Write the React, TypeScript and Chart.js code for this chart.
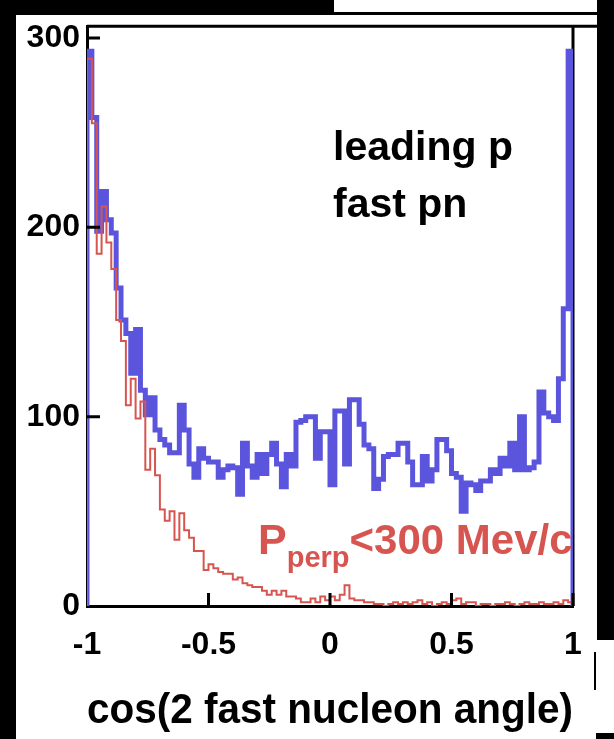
import React, { useEffect, useRef } from "react";
import { Chart, registerables } from "chart.js";

Chart.register(...registerables);

// ---- data ----
const histMin = -1;
const histMax = 1;

const fastPnCounts = [
  293, 258, 198, 219, 204, 197, 168, 151, 144, 123,
  146, 114, 101, 110, 93, 88, 85, 81, 81, 106,
  93, 75, 68, 83, 78, 76, 76, 68, 72, 74,
  73, 59, 86, 74, 68, 80, 70, 80, 86, 75,
  63, 80, 74, 97, 98, 100, 100, 78, 92, 92,
  64, 103, 103, 75, 109, 109, 96, 85, 83, 62,
  67, 79, 80, 80, 86, 86, 76, 64, 64, 79,
  66, 72, 88, 88, 82, 70, 68, 50, 65, 64,
  61, 66, 66, 72, 70, 78, 74, 86, 72, 100,
  72, 73, 76, 113, 102, 100, 98, 120, 157, 293,
];

const pperpCutCounts = [
  289, 255, 186, 211, 192, 178, 151, 140, 106, 120,
  99, 108, 72, 83, 69, 51, 45, 50, 35, 49,
  40, 36, 29, 29, 19, 22, 20, 18, 17, 17,
  14, 15, 12, 11, 10, 10, 8, 6, 8, 6,
  8, 5, 5, 4, 2, 2, 4, 2, 5, 3,
  5, 3, 6, 11, 4, 3, 3, 2, 2, 1,
  1, 0, 1, 2, 1, 2, 1, 2, 3, 1,
  2, 0, 1, 2, 1, 3, 4, 1, 2, 2,
  0, 1, 1, 0, 1, 1, 2, 1, 0, 1,
  2, 1, 1, 2, 1, 1, 2, 1, 3, 2,
];

const yAxisMax = 306.25;
const yTickValues = [0, 100, 200, 300];
const yTickLabels = ["0", "100", "200", "300"];
const xTickValues = [-1, -0.5, 0, 0.5, 1];
const xTickLabels = ["-1", "-0.5", "0", "0.5", "1"];
const xAxisTitle = "cos(2 fast nucleon angle)";
const annotationLines = ["leading p", "fast pn"];
const cutLabelMain = "P";
const cutLabelSub = "perp";
const cutLabelRest = "<300 Mev/c";

const FONT = "'Liberation Sans', Arial, Helvetica, sans-serif";
const BLUE = "#5a55dc";
const RED = "#d75550";

function stepPoints(counts: number[]) {
  const n = counts.length;
  const w = (histMax - histMin) / n;
  const pts: { x: number; y: number }[] = [{ x: histMin, y: 0 }];
  counts.forEach((c, i) => pts.push({ x: histMin + i * w, y: c }));
  pts.push({ x: histMax, y: counts[n - 1] });
  pts.push({ x: histMax, y: 0 });
  return pts;
}

const decorPlugin = {
  id: "decor",
  beforeDraw(chart: any) {
    const { ctx, width, height } = chart;
    ctx.save();
    ctx.fillStyle = "#ffffff";
    ctx.fillRect(0, 0, width, height);
    ctx.fillStyle = "#000000";
    ctx.fillRect(0, 0, 16, height);
    ctx.fillRect(0, 0, 334, 15);
    ctx.fillRect(331, 0, 3, 15);
    ctx.fillRect(334, 12, 263, 3);
    ctx.fillRect(597, 0, width - 597, 640);
    ctx.fillRect(594, 652, 2, 38);
    ctx.fillRect(596, 733, width - 596, height - 733);
    ctx.restore();
  },
  beforeDatasetsDraw(chart: any) {
    const { ctx, chartArea } = chart;
    ctx.save();
    ctx.strokeStyle = "#000";
    ctx.lineWidth = 3;
    ctx.beginPath();
    ctx.moveTo(chartArea.left, chartArea.top);
    ctx.lineTo(597, chartArea.top);
    ctx.moveTo(chartArea.right, chartArea.top);
    ctx.lineTo(chartArea.right, chartArea.bottom);
    ctx.stroke();
    ctx.restore();
  },
  afterDatasetsDraw(chart: any) {
    const { ctx, chartArea, scales } = chart;
    const xs = scales.x;
    const ys = scales.y;
    ctx.save();
    ctx.strokeStyle = "#000";
    ctx.lineWidth = 3;
    ctx.beginPath();
    xTickValues.forEach((v) => {
      if (v === histMin) return;
      const px = xs.getPixelForValue(v);
      ctx.moveTo(px, chartArea.bottom);
      ctx.lineTo(px, chartArea.bottom - 13);
    });
    yTickValues.forEach((v) => {
      if (v === 0) return;
      const py = ys.getPixelForValue(v);
      ctx.moveTo(chartArea.left, py);
      ctx.lineTo(chartArea.left + 13, py);
    });
    ctx.stroke();

    // annotations
    ctx.fillStyle = "#000";
    ctx.textAlign = "left";
    ctx.textBaseline = "alphabetic";
    ctx.font = `bold 41px ${FONT}`;
    ctx.fillText(annotationLines[0], 333, 160);
    ctx.fillText(annotationLines[1], 333, 217);

    ctx.fillStyle = RED;
    let x = 258;
    ctx.font = `bold 43px ${FONT}`;
    ctx.fillText(cutLabelMain, x, 554);
    x += ctx.measureText(cutLabelMain).width;
    ctx.font = `bold 29px ${FONT}`;
    ctx.fillText(cutLabelSub, x, 567);
    x += ctx.measureText(cutLabelSub).width;
    ctx.font = `bold 42px ${FONT}`;
    ctx.fillText(cutLabelRest, x, 554);
    ctx.restore();
  },
};

export default function App() {
  const canvasRef = useRef<HTMLCanvasElement | null>(null);

  useEffect(() => {
    if (!canvasRef.current) return;
    const chart = new Chart(canvasRef.current, {
      type: "line",
      data: {
        datasets: [
          {
            label: "leading p, fast pn",
            data: stepPoints(fastPnCounts),
            borderColor: BLUE,
            borderWidth: 5,
            stepped: true,
            pointRadius: 0,
            fill: false,
            borderJoinStyle: "miter",
            borderCapStyle: "butt",
            order: 2,
          },
          {
            label: "Pperp<300 Mev/c",
            data: stepPoints(pperpCutCounts),
            borderColor: RED,
            borderWidth: 2,
            stepped: true,
            pointRadius: 0,
            fill: false,
            borderJoinStyle: "miter",
            borderCapStyle: "butt",
            order: 1,
          },
        ],
      },
      options: {
        animation: false,
        responsive: false,
        devicePixelRatio: 1,
        events: [],
        layout: { padding: { left: 0, top: 18, right: 41, bottom: 0 } },
        plugins: {
          legend: { display: false },
          tooltip: { enabled: false },
          title: { display: false },
        },
        scales: {
          x: {
            type: "linear",
            position: "bottom",
            min: histMin,
            max: histMax,
            grid: { display: false, drawTicks: false },
            border: { display: true, color: "#000", width: 3 },
            afterBuildTicks: (s: any) => {
              s.ticks = xTickValues.map((v) => ({ value: v }));
            },
            afterFit: (s: any) => {
              s.height = 133;
            },
            ticks: {
              color: "#000",
              font: { family: FONT, size: 32, weight: "bold", lineHeight: 1.2 },
              padding: 20,
              maxRotation: 0,
              autoSkip: false,
              callback: (v: any) => {
                const i = xTickValues.indexOf(Number(v));
                return i >= 0 ? xTickLabels[i] : "";
              },
            },
            title: {
              display: true,
              text: xAxisTitle,
              color: "#000",
              font: { family: FONT, size: 42, weight: "bold", lineHeight: 1.2 },
              padding: { top: 0, bottom: 2 },
            },
          },
          y: {
            type: "linear",
            min: 0,
            max: yAxisMax,
            grid: { display: false, drawTicks: false },
            border: { display: true, color: "#000", width: 3 },
            afterBuildTicks: (s: any) => {
              s.ticks = yTickValues.map((v) => ({ value: v }));
            },
            afterFit: (s: any) => {
              s.width = 87;
            },
            ticks: {
              color: "#000",
              font: { family: FONT, size: 32, weight: "bold", lineHeight: 1.2 },
              padding: 7,
              autoSkip: false,
              callback: (v: any) => {
                const i = yTickValues.indexOf(Number(v));
                return i >= 0 ? yTickLabels[i] : "";
              },
            },
          },
        },
      },
      plugins: [decorPlugin],
    } as any);
    return () => chart.destroy();
  }, []);

  return (
    <div style={{ position: "absolute", left: 0, top: 0, width: 614, height: 739 }}>
      <canvas ref={canvasRef} width={614} height={739} style={{ display: "block" }} />
    </div>
  );
}
